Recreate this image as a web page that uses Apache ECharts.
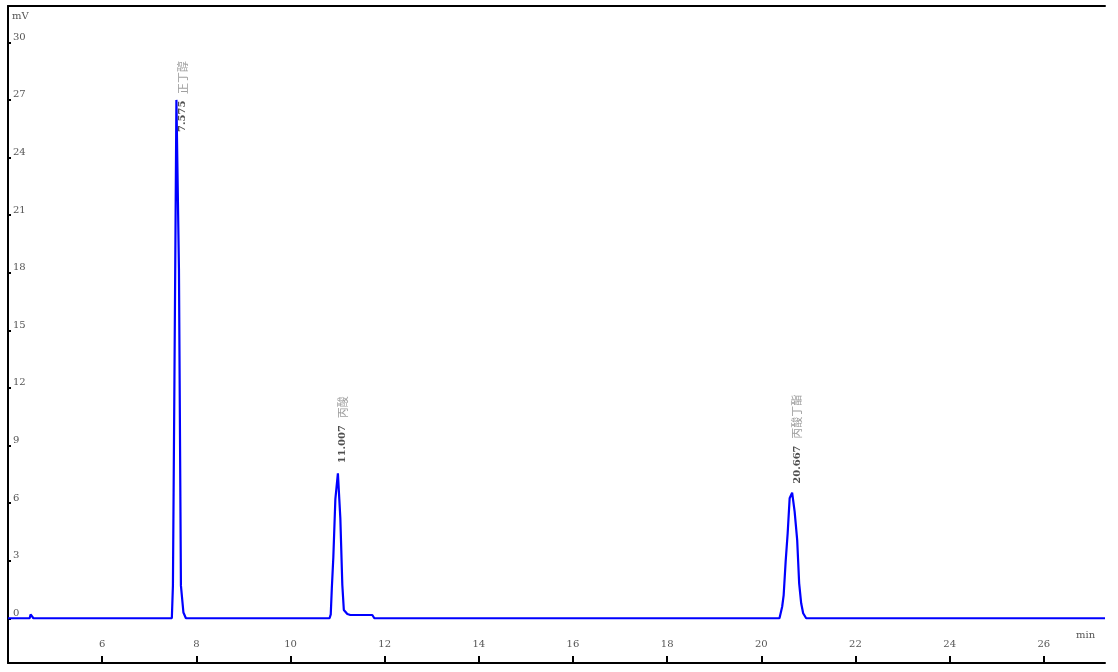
<!DOCTYPE html>
<html>
<head>
<meta charset="utf-8">
<title>Chromatogram</title>
<script src="https://cdn.jsdelivr.net/npm/echarts@6/dist/echarts.min.js"></script>
<style>
  html, body { margin: 0; padding: 0; background: #fff; }
  #chart { width: 1118px; height: 672px; }
</style>
</head>
<body>
<div id="chart"></div>
<script>
  // retention time (min) and signal (mV)
  const times = [
    4.00, 4.46, 4.48, 4.52, 4.54,
    7.48, 7.503, 7.535, 7.577, 7.631, 7.673, 7.726, 7.779,
    10.83, 10.855, 10.878, 10.91, 10.953, 11.007, 11.059, 11.101, 11.133, 11.207, 11.271, 11.738, 11.781,
    20.386, 20.411, 20.443, 20.475, 20.517, 20.56, 20.602, 20.655, 20.708, 20.762, 20.804, 20.847, 20.889, 20.953,
    27.3
  ];
  const signal = [
    0, 0, 0.2, 0.2, 0,
    0, 1.7, 12.4, 27.0, 18.2, 1.7, 0.3, 0,
    0, 0.2, 1.56, 3.18, 6.2, 7.55, 5.2, 1.73, 0.43, 0.22, 0.17, 0.17, 0,
    0, 0.1, 0.6, 1.21, 2.95, 4.43, 6.25, 6.54, 5.55, 4.08, 1.82, 0.78, 0.26, 0,
    0
  ];

  // peak table
  const peakTimes = [7.577, 11.007, 20.655];
  const peakHeights = [27.0, 7.55, 6.54];
  const peakRT = ['7.575', '11.007', '20.667'];
  const peakNames = ['正丁醇', '丙酸', '丙酸丁酯'];

  const yTicks = [0, 3, 6, 9, 12, 15, 18, 21, 24, 27, 30];

  // label offsets are given in the rotated frame (text runs upward)
  const labelOffsets = [[-32, 6], [10, 5], [9, 5]];

  const font = 'DejaVu Serif';
  const chart = echarts.init(document.getElementById('chart'));

  const option = {
    animation: false,
    grid: { left: 8, right: 13, top: 6, bottom: 9, containLabel: false },
    graphic: [
      { type: 'text', left: 12, top: 11, style: { text: 'mV', fontFamily: font, fontSize: 10, fill: '#555' } },
      { type: 'text', left: 1076, top: 630, style: { text: 'min', fontFamily: font, fontSize: 10, fill: '#555' } }
    ],
    xAxis: [
      {
        type: 'value',
        min: 4,
        max: 27.3,
        interval: 2,
        position: 'bottom',
        axisLine: { onZero: false, lineStyle: { color: '#000', width: 2 } },
        axisTick: { inside: true, length: 7, lineStyle: { color: '#000', width: 2 } },
        axisLabel: {
          inside: true, margin: 14, showMinLabel: false, showMaxLabel: false,
          fontFamily: font, fontSize: 10, color: '#555'
        },
        splitLine: { show: false }
      },
      {
        type: 'value',
        min: 4,
        max: 27.3,
        position: 'top',
        axisLine: { show: true, onZero: false, lineStyle: { color: '#000', width: 2 } },
        axisTick: { show: false },
        axisLabel: { show: false },
        splitLine: { show: false }
      }
    ],
    yAxis: {
      type: 'value',
      min: -2.33,
      max: 31.89,
      axisLine: { show: true, onZero: false, lineStyle: { color: '#000', width: 2 } },
      axisTick: { inside: true, length: 3, customValues: yTicks, lineStyle: { color: '#000', width: 2 } },
      axisLabel: {
        inside: true, margin: 5, customValues: yTicks, verticalAlign: 'bottom',
        fontFamily: font, fontSize: 10, color: '#555'
      },
      splitLine: { show: false }
    },
    series: [
      {
        type: 'line',
        data: times.map((t, i) => [t, signal[i]]),
        showSymbol: false,
        lineStyle: { color: '#0000ff', width: 2.2 },
        itemStyle: { color: '#0000ff' }
      },
      {
        type: 'scatter',
        symbolSize: 1,
        itemStyle: { color: 'rgba(0,0,0,0)' },
        data: peakTimes.map((t, i) => ({
          value: [t, peakHeights[i]],
          label: { offset: labelOffsets[i] }
        })),
        label: {
          show: true,
          position: 'inside',
          rotate: 90,
          align: 'left',
          verticalAlign: 'middle',
          formatter: p => '{t|' + peakRT[p.dataIndex] + '}  {n|' + peakNames[p.dataIndex] + '}',
          rich: {
            t: { fontFamily: font, fontSize: 10, fontWeight: 'bold', color: '#222' },
            n: { fontFamily: 'Noto Sans CJK SC', fontSize: 11, color: '#888' }
          }
        }
      }
    ]
  };

  chart.setOption(option);
</script>
</body>
</html>
